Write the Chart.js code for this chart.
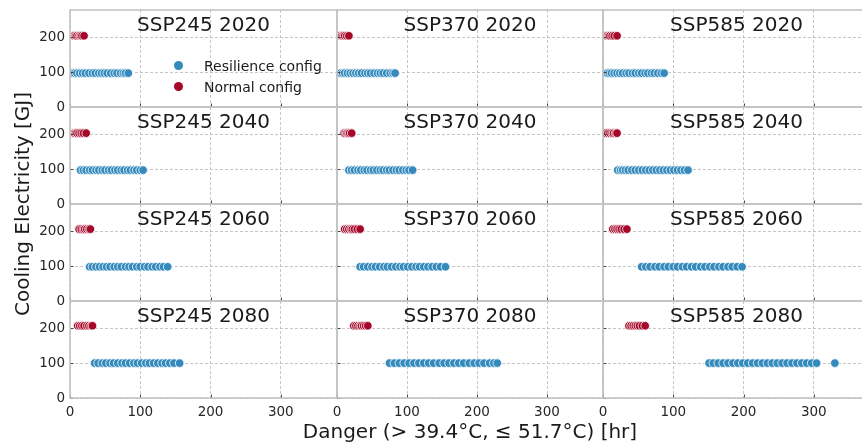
<!DOCTYPE html>
<html>
<head>
<meta charset="utf-8">
<script src="https://cdn.jsdelivr.net/npm/chart.js@4"></script>
<style>
  html, body { margin: 0; padding: 0; background: #fff; }
  #fig { position: relative; width: 862px; height: 446px; overflow: hidden; background: #fff;
         font-family: 'DejaVu Sans', sans-serif; color: #1a1a1a; }
  #fig canvas { position: absolute; }
  .ttl { position: absolute; font-size: 20px; line-height: 20px; text-align: center; white-space: nowrap; }
  .lbl { position: absolute; font-size: 20px; line-height: 20px; white-space: nowrap; }
  .leg { position: absolute; font-size: 14px; line-height: 14px; white-space: nowrap; }
  .dot { position: absolute; width: 9px; height: 9px; border-radius: 50%; }
</style>
</head>
<body>
<div id="fig"></div>
<script>
// ── data ────────────────────────────────────────────────────────────
const scenarios = ['SSP245', 'SSP370', 'SSP585'];
const years = ['2020', '2040', '2060', '2080'];
const xTicks = [0, 100, 200, 300];
const yTicks = [0, 100, 200];

// cooling electricity [GJ] per year row
const resilienceGJ = [97, 97, 98, 100];
const normalGJ = [204, 203, 206, 207];

// danger hours, one list per year (2020, 2040, 2060, 2080)
const resilience245 = [
    [4, 7, 10, 14, 18, 22, 27, 32, 36, 41, 45, 49, 53, 58, 63, 67, 72, 76, 79, 83],
    [15, 19, 23, 28, 32, 37, 41, 46, 50, 55, 59, 64, 68, 73, 77, 82, 86, 91, 95, 100, 104],
    [28, 32, 37, 42, 47, 52, 57, 63, 68, 73, 79, 84, 89, 95, 100, 106, 111, 117, 122, 128, 133, 139],
    [35, 40, 46, 51, 57, 62, 68, 74, 79, 85, 91, 96, 102, 108, 113, 119, 125, 131, 136, 142, 148, 156]
];
const normal245 = [
    [5, 6, 8, 10, 13, 15, 17, 20],
    [6, 8, 10, 13, 16, 19, 23],
    [13, 16, 19, 21, 24, 27, 29],
    [11, 14, 17, 20, 24, 27, 30, 32]
];
const resilience370 = [
    [5, 8, 11, 15, 19, 23, 27, 31, 35, 40, 44, 48, 53, 58, 62, 66, 71, 76, 80, 83],
    [17, 21, 25, 30, 34, 39, 43, 48, 52, 57, 62, 66, 71, 75, 80, 85, 89, 94, 99, 103, 108],
    [33, 38, 44, 50, 55, 61, 67, 72, 78, 84, 90, 95, 101, 107, 113, 118, 124, 130, 136, 142, 148, 155],
    [75, 82, 89, 96, 103, 110, 117, 124, 131, 138, 146, 153, 160, 167, 174, 181, 189, 196, 203, 210, 218, 224, 229]
];
const normal370 = [
    [4, 5, 7, 9, 11, 14, 17],
    [10, 12, 14, 16, 18, 21],
    [11, 14, 17, 20, 22, 25, 29, 33],
    [24, 27, 30, 33, 35, 38, 41, 44]
];
const resilience585 = [
    [6, 9, 12, 16, 20, 24, 28, 33, 37, 42, 46, 51, 55, 60, 64, 69, 73, 78, 83, 87],
    [21, 25, 28, 32, 36, 41, 46, 51, 56, 61, 66, 71, 76, 81, 86, 91, 96, 101, 106, 111, 116, 121],
    [55, 61, 67, 74, 80, 87, 93, 100, 106, 113, 119, 126, 132, 139, 145, 152, 158, 165, 171, 178, 184, 191, 198],
    [151, 157, 164, 171, 178, 185, 192, 199, 206, 213, 220, 227, 234, 241, 248, 255, 262, 269, 276, 283, 290, 297, 304, 330]
];
const normal585 = [
    [4, 6, 8, 10, 13, 16, 20],
    [4, 7, 10, 13, 15, 18, 20],
    [14, 17, 20, 23, 26, 30, 34],
    [37, 40, 43, 46, 49, 52, 56, 60]
];

const resilienceByScenario = [resilience245, resilience370, resilience585];
const normalByScenario = [normal245, normal370, normal585];

// ── layout ──────────────────────────────────────────────────────────
const BLUE = '#348ABD';
const RED = '#A60628';
const colLeft = [70, 337, 603];
const colWidth = [267, 266, 267];
const rowTop = [10, 107, 204, 301];
const rowHeight = 97;
const yAxisW = 60;     // room for y tick labels (first column)
const xAxisH = 30;     // room for x tick labels (bottom row)
const M = 10;          // spare margin so edge labels are not cut off

Chart.defaults.font.family = "'DejaVu Sans', sans-serif";

const fig = document.getElementById('fig');

// frame + inward tick marks, like the matplotlib spines
const framePlugin = {
    id: 'frame',
    afterDatasetsDraw(chart) {
        const { ctx, chartArea: a, scales } = chart;
        ctx.save();
        ctx.strokeStyle = '#333';
        ctx.lineWidth = 0.9;
        ctx.beginPath();
        for (const v of xTicks) {
            const px = Math.round(scales.x.getPixelForValue(v)) + 0.5;
            ctx.moveTo(px, a.bottom);
            ctx.lineTo(px, a.bottom - 3.5);
        }
        for (const v of yTicks) {
            const py = Math.round(scales.y.getPixelForValue(v)) + 0.5;
            ctx.moveTo(a.left, py);
            ctx.lineTo(a.left + 3.5, py);
        }
        ctx.stroke();
        ctx.strokeStyle = '#c4c4c4';
        ctx.lineWidth = 1.6;
        ctx.strokeRect(a.left, a.top, a.right - a.left, a.bottom - a.top);
        ctx.restore();
    }
};

function addPanel(r, c) {
    const showY = c === 0;
    const showX = r === 3;
    const cv = document.createElement('canvas');
    const w = colWidth[c] + (showY ? yAxisW : 0) + 2 * M;
    const h = rowHeight + (showX ? xAxisH : 0) + 2 * M;
    cv.width = w; cv.height = h;
    cv.style.width = w + 'px'; cv.style.height = h + 'px';
    cv.style.left = (colLeft[c] - (showY ? yAxisW : 0) - M) + 'px';
    cv.style.top = (rowTop[r] - M) + 'px';
    fig.appendChild(cv);

    const pts = (xs, y) => xs.map(x => ({ x, y }));
    const tickFont = { size: 13.5 };

    new Chart(cv, {
        type: 'scatter',
        data: {
            datasets: [
                {
                    label: 'Resilience config',
                    data: pts(resilienceByScenario[c][r], resilienceGJ[r]),
                    backgroundColor: BLUE,
                    borderColor: '#fff',
                    borderWidth: 0.8,
                    pointRadius: 4.3
                },
                {
                    label: 'Normal config',
                    data: pts(normalByScenario[c][r], normalGJ[r]),
                    backgroundColor: RED,
                    borderColor: '#fff',
                    borderWidth: 0.8,
                    pointRadius: 4.3
                }
            ]
        },
        options: {
            responsive: false,
            animation: false,
            events: [],
            layout: { padding: M, autoPadding: false },
            plugins: { legend: { display: false }, tooltip: { enabled: false } },
            scales: {
                x: {
                    type: 'linear',
                    min: 0,
                    max: 380,
                    ticks: { display: showX, stepSize: 100, includeBounds: false, padding: 6, color: '#262626', font: tickFont },
                    grid: { color: '#b8b8b8', lineWidth: 0.8, drawTicks: false },
                    border: { display: false, dash: [3, 2] },
                    afterFit: s => { s.height = showX ? xAxisH : 0; s.paddingLeft = 0; s.paddingRight = 0; }
                },
                y: {
                    type: 'linear',
                    min: 0,
                    max: 278,
                    ticks: { display: showY, stepSize: 100, includeBounds: false, padding: 5, color: '#262626', font: tickFont },
                    grid: { color: '#b8b8b8', lineWidth: 0.8, drawTicks: false },
                    border: { display: false, dash: [3, 2] },
                    afterFit: s => { s.width = showY ? yAxisW : 0; s.paddingTop = 0; s.paddingBottom = 0; }
                }
            }
        },
        plugins: [framePlugin]
    });

    const t = document.createElement('div');
    t.className = 'ttl';
    t.textContent = scenarios[c] + ' ' + years[r];
    t.style.left = colLeft[c] + 'px';
    t.style.width = colWidth[c] + 'px';
    t.style.top = (rowTop[r] + 4) + 'px';
    fig.appendChild(t);
}

for (let r = 0; r < years.length; r++) {
    for (let c = 0; c < scenarios.length; c++) addPanel(r, c);
}

// legend (inside first panel)
const legendItems = [['Resilience config', BLUE, 65.5], ['Normal config', RED, 86.5]];
for (const [text, color, cy] of legendItems) {
    const d = document.createElement('div');
    d.className = 'dot';
    d.style.background = color;
    d.style.left = (178 - 4.5) + 'px';
    d.style.top = (cy - 4.5) + 'px';
    fig.appendChild(d);
    const l = document.createElement('div');
    l.className = 'leg';
    l.textContent = text;
    l.style.left = '204px';
    l.style.top = (cy - 7) + 'px';
    fig.appendChild(l);
}

// shared axis labels
const xl = document.createElement('div');
xl.className = 'lbl';
xl.textContent = 'Danger (> 39.4°C, ≤ 51.7°C) [hr]';
xl.style.left = '270px';
xl.style.width = '400px';
xl.style.textAlign = 'center';
xl.style.top = '421px';
fig.appendChild(xl);

const yl = document.createElement('div');
yl.className = 'lbl';
yl.textContent = 'Cooling Electricity [GJ]';
yl.style.width = '300px';
yl.style.textAlign = 'center';
yl.style.left = (21.5 - 150) + 'px';
yl.style.top = (204 - 10) + 'px';
yl.style.transform = 'rotate(-90deg)';
fig.appendChild(yl);
</script>
</body>
</html>
